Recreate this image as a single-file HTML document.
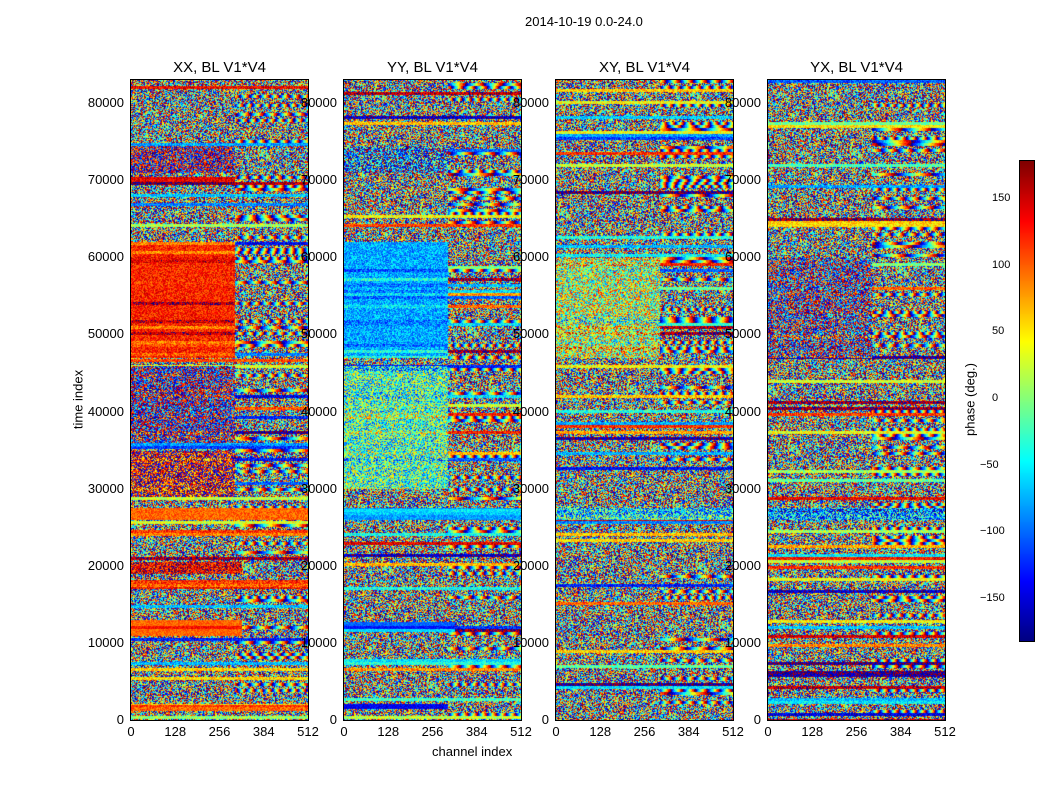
<!DOCTYPE html>
<html><head><meta charset="utf-8">
<style>
body{margin:0;background:#fff;width:1050px;height:800px;position:relative;font-family:"Liberation Sans",sans-serif;overflow:hidden}
.t{position:absolute;font-size:13px;color:#000;white-space:nowrap}
canvas{position:absolute}
</style></head><body>
<div class="t" style="left:525px;top:14px">2014-10-19 0.0-24.0</div>
<div id="root"></div>
<canvas id="cb" width="14" height="480" style="left:1019px;top:160px;border:1px solid #000;box-sizing:border-box"></canvas>
<div class="t" style="left:930px;top:392px;transform:rotate(-90deg);transform-origin:center;width:80px;text-align:center">phase (deg.)</div>
<div class="t" style="left:38px;top:392px;transform:rotate(-90deg);width:80px;text-align:center">time index</div>
<div class="t" style="left:432px;top:744px">channel index</div>
<script>
const titles=["XX, BL V1*V4","YY, BL V1*V4","XY, BL V1*V4","YX, BL V1*V4"];
const panelLeft=[131,344,556,768];
const yTicks=[0,10000,20000,30000,40000,50000,60000,70000,80000];
const xTicks=[0,128,256,384,512];
const cbTicks=[-150,-100,-50,0,50,100,150];
// bands: [tStart,tEnd,chStart,chEnd,meanPhase,spread]
const bandsXX=[[1200,2000,0,512,100,60],[11000,13000,0,320,100,40],[17000,18200,0,512,130,80],[19000,20500,0,320,140,120],[26000,27600,0,512,100,50],[29000,35000,0,300,150,220],[36000,46000,0,300,-160,250],[47000,62000,0,300,125,70],[69500,70500,0,300,140,60],[71000,74500,0,300,180,240]];
const bandsYY=[[1500,2200,0,300,-140,40],[11500,12800,0,320,-100,40],[26000,27600,0,512,-80,50],[30000,46000,0,300,-20,200],[47000,62000,0,300,-75,80],[71000,74500,0,300,-90,260]];
const bandsXY=[[47000,60000,0,300,20,230],[26000,27500,0,512,-60,200]];
const bandsYX=[[47000,60000,0,300,-160,280],[26000,27500,0,512,-70,200]];
const allBands=[bandsXX,bandsYY,bandsXY,bandsYX];
const T0=0,T1=83000,TOP=80,BOT=720,W=177;
const yS=v=>BOT-(v-T0)/(T1-T0)*(BOT-TOP);
const xS=(c,l)=>l+c/512*W;
function jet(v){v=Math.max(0,Math.min(1,v));const f=x=>Math.round(255*Math.max(0,Math.min(1,1.5-Math.abs(4*v-x))));return[f(3),f(2),f(1)];}
let seed=12345;function rnd(){seed=(seed*1103515245+12345)&0x7fffffff;return seed/0x7fffffff;}
const root=document.getElementById('root');
function div(txt,css,name){const d=document.createElement('div');d.className='t';d.textContent=txt;d.style.cssText=css;


root.appendChild(d);return d;}
panelLeft.forEach((L,p)=>{
 const cv=document.createElement('canvas');cv.width=W;cv.height=BOT-TOP;
 cv.style.cssText=`left:${L}px;top:${TOP}px;outline:1px solid #000`;
 
 
 root.appendChild(cv);
 const ctx=cv.getContext('2d');const img=ctx.createImageData(W,BOT-TOP);
 const H=BOT-TOP;
 // row-group structure (texture only)
 const rowKind=[],rowOff=[],rowFreq=[];
 for(let g=0;g<H;g++){const r=rnd();rowKind.push(r<0.18?1:(r<0.35?2:0));rowOff.push(rnd()*360-180);rowFreq.push(3+rnd()*12);}
 for(let y=0;y<H;y++){
  const g=Math.floor(y/3);
  const t=T0+(H-y)/H*(T1-T0);
  for(let x=0;x<W;x++){
   const c=x/W*512;let m=0,s=360,inBand=false;
   allBands[p].forEach(b=>{if(t>=b[0]&&t<b[1]&&c>=b[2]&&c<b[3]){m=b[4];s=b[5];inBand=true;}});
   let v;
   if(inBand){v=m+s*(rnd()-0.5)+(rowKind[g]?rowOff[g]*0.25:0);}
   else if(rowKind[g]===1){v=rowOff[g]+70*(rnd()-0.5);}
   else if(c>300&&rowKind[g]===2){v=rowOff[g]+c*rowFreq[g]+40*(rnd()-0.5);}
   else v=360*(rnd()-0.5);
   v=((v+180)%360+360)%360-180;
   const col=jet((v+180)/360);const i=(y*W+x)*4;
   img.data[i]=col[0];img.data[i+1]=col[1];img.data[i+2]=col[2];img.data[i+3]=255;}
 }
 ctx.putImageData(img,0,0);
 div(titles[p],`left:${L}px;width:${W}px;text-align:center;top:59px;font-size:15px`,'panel-title-'+p);
 yTicks.forEach(v=>{div(String(v),`left:${L-70}px;width:63px;text-align:right;top:${yS(v)-8}px`,'y-tick-label');});
 xTicks.forEach(v=>{div(String(v),`left:${xS(v,L)-20}px;width:40px;text-align:center;top:724px`,'x-tick-label');});
});
const cb=document.getElementById('cb').getContext('2d');
for(let y=0;y<480;y++){const c=jet(1-y/480);cb.fillStyle=`rgb(${c})`;cb.fillRect(0,y,14,1);}
cbTicks.forEach(v=>{const y=160+(180-v)/360*480;
 div(String(v).replace('-','\u2212'),`left:${v<0?980:992}px;top:${y-8}px;font-size:11px`,'colorbar-tick-label');});
</script>
</body></html>
